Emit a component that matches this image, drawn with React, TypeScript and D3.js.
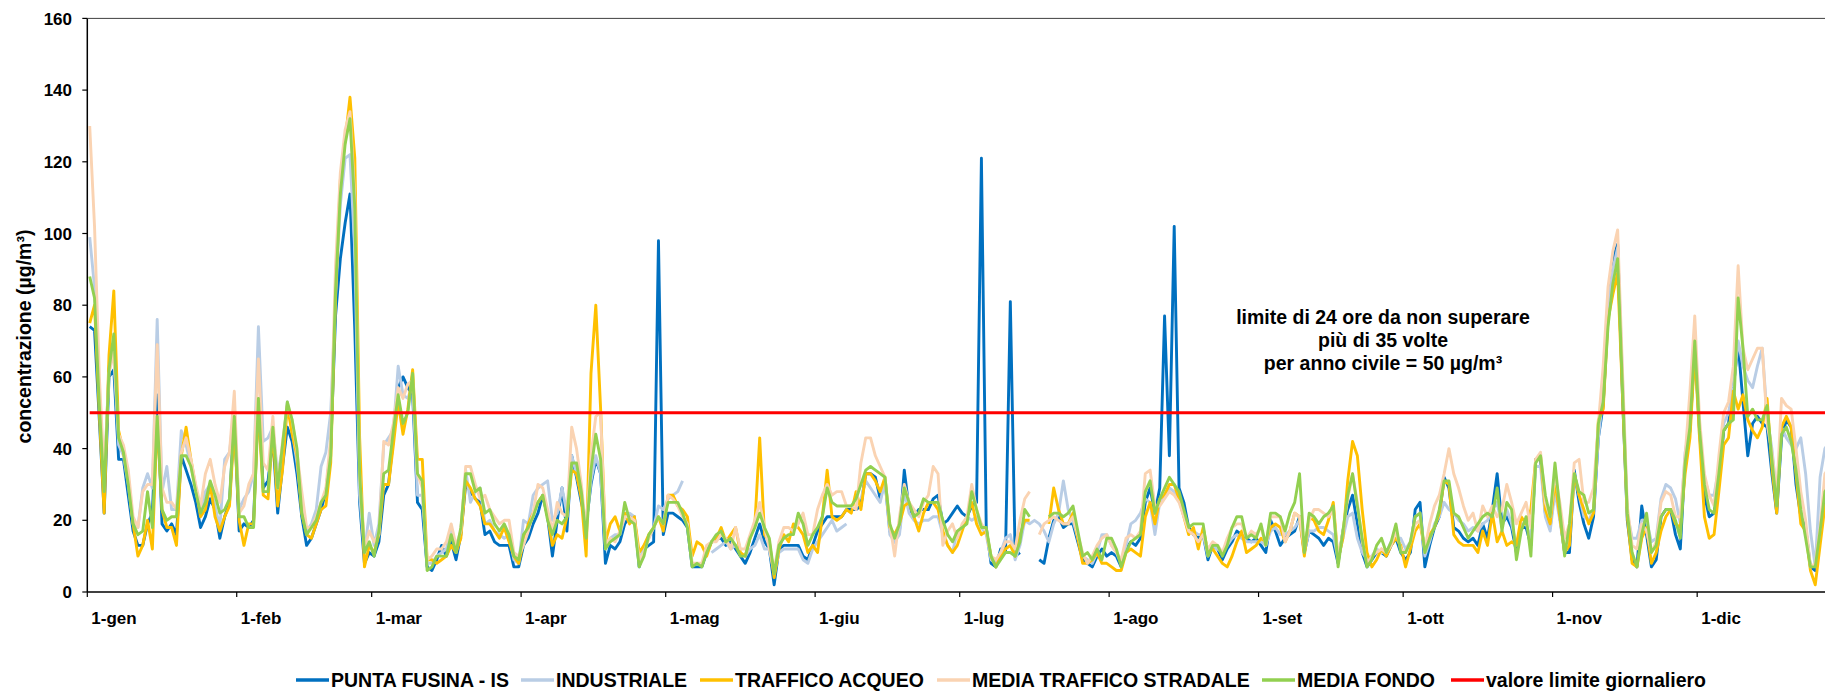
import React from 'react';
import * as d3 from 'd3';

const monthLabels = ['1-gen', '1-feb', '1-mar', '1-apr', '1-mag', '1-giu', '1-lug', '1-ago', '1-set', '1-ott', '1-nov', '1-dic'];
const monthStartDays = [0, 31, 59, 90, 120, 151, 181, 212, 243, 273, 304, 334];
const yTickValues = [0, 20, 40, 60, 80, 100, 120, 140, 160];
const limitValue = 50;

const seriesNames = ['PUNTA FUSINA - IS', 'INDUSTRIALE', 'TRAFFICO ACQUEO', 'MEDIA TRAFFICO STRADALE', 'MEDIA FONDO'];
const limitName = 'valore limite giornaliero';
const annotationLines = ['limite di 24 ore da non superare', 'più di 35 volte', 'per anno civile = 50 µg/m³'];

const N = null;

const puntaFusina = [
  74,73,48,22,60,62,37,37,27,17, 13,13,19,22,55,19,17,19,16,38, 34,30,25,18,21,26,23,15,21,25,
  49,17,19,18,20,54,29,31,43,22, 35,46,42,33,21,13,15,19,23,28, 40,77,93,103,111,73,25,8,11,10,
  14,27,30,43,57,60,57,55,25,23, 7,6,9,13,10,14,9,16,30,28, 26,25,16,17,14,13,13,13,7,7,
  13,15,19,22,27,21,10,20,29,17, 38,32,25,19,30,37,33,8,13,12, 14,19,21,21,7,12,13,14,98,16,
  22,22,21,20,18,7,7,7,11,14, 15,15,13,14,12,10,8,11,15,19, 14,12,2,12,13,13,13,13,10,9,
  13,17,19,21,21,21,21,23,23,23, 24,33,33,32,26,31,17,14,17,34, 23,21,23,23,23,26,27,19,20,22,
  24,22,21,24,25,121,18,8,7,12, 11,81,10,11,N,N,N,9,8,15, 20,21,18,19,19,14,9,8,7,10,
  12,10,11,10,7,12,14,13,15,25, 29,22,29,77,38,102,29,25,18,16, 15,16,9,13,12,9,12,14,17,16,
  15,14,15,13,11,20,17,13,15,16, 17,21,11,17,16,15,13,15,14,8, 17,23,27,19,11,7,9,11,11,10,
  13,15,11,9,11,23,25,7,13,18, 21,32,29,18,17,15,14,15,13,19, 15,23,33,19,21,18,11,18,18,13,
  37,37,22,18,30,21,11,11,34,25, 19,15,21,43,52,78,93,97,55,20, 9,7,24,16,7,9,21,23,23,16,
  12,37,45,68,45,27,21,22,31,45, 47,57,69,53,38,47,49,47,46,33, 22,43,48,46,30,21,18,7,6,17,27,30
];

const industriale = [
  99,85,55,30,63,66,41,38,30,19, 18,29,33,29,76,28,35,23,23,45, 41,35,29,22,28,30,24,18,37,39,
  51,23,26,28,33,74,42,43,46,33, 40,53,45,36,24,17,19,23,35,39, 50,82,108,121,122,95,27,11,22,13,
  19,41,43,45,63,55,54,58,27,27, 8,8,10,11,12,18,11,17,34,25, 28,29,19,20,17,16,15,16,9,8,
  20,19,27,29,30,31,20,22,29,22, 38,33,27,19,31,38,33,12,15,16, 16,21,22,21,8,13,15,18,24,23,
  26,27,28,31,N,N,N,N,N,11, 12,13,14,12,13,11,10,12,13,16, 12,12,5,11,12,12,12,12,9,8,
  12,14,16,18,20,17,18,19,N,N, 26,31,29,27,25,31,16,14,16,28, 22,20,19,20,20,21,21,16,13,11,
  17,18,21,20,21,18,16,9,8,11, 15,16,9,13,20,19,20,19,17,14, 19,22,31,23,20,15,10,9,8,11,
  16,16,13,11,8,13,19,20,22,26, 25,16,25,27,29,28,26,22,17,17, 16,16,10,13,12,11,13,15,16,15,
  14,14,14,14,13,17,18,16,16,17, 18,20,11,17,17,18,18,17,16,9, 15,21,22,15,11,9,10,12,11,11,
  14,15,15,12,14,21,22,10,14,19, 21,25,23,22,20,19,17,18,17,19, 20,23,25,18,23,19,13,19,19,15,
  35,35,21,17,28,20,11,15,33,27, 21,20,23,43,55,80,90,96,60,22, 15,15,20,20,14,15,26,30,29,26,
  19,39,47,70,43,32,27,27,35,47, 50,57,70,63,59,57,63,68,49,40, 27,46,43,41,40,43,33,17,7,32,40,42
];

const trafficoAcqueo = [
  75,80,50,22,66,84,45,39,32,19, 10,13,20,12,48,23,18,18,13,38, 46,37,29,21,23,30,21,17,21,24,
  46,20,13,19,19,52,27,26,45,24, 34,52,44,38,22,16,15,19,23,24, 36,83,115,126,138,121,43,7,13,11,
  16,30,30,41,53,44,51,62,37,37, 9,9,8,9,10,13,11,15,31,29, 26,24,19,19,17,15,18,14,10,8,
  14,19,22,25,27,21,13,16,15,21, 34,33,26,10,61,80,51,14,19,21, 17,22,19,21,11,13,16,18,21,17,
  27,27,24,23,21,10,14,13,10,14, 15,18,14,16,18,11,10,15,19,43, 16,14,4,12,16,14,19,18,16,11,
  13,11,21,34,21,20,21,23,22,28, 23,33,33,31,28,32,18,16,19,24, 25,21,17,22,25,25,23,17,13,11,
  13,17,21,25,19,16,17,10,7,10, 12,13,10,16,20,20,N,N,N,19, 29,23,19,19,22,15,8,8,9,11,
  8,8,7,6,6,11,12,11,10,21, 25,19,26,27,30,30,26,21,16,18, 12,18,11,12,10,8,7,10,14,17,
  11,12,13,15,14,18,19,18,14,17, 22,21,10,21,20,17,16,20,25,9, 15,31,42,38,23,11,7,9,12,10,
  13,15,13,7,12,17,19,12,16,18, 22,31,30,16,14,13,13,13,11,17, 13,22,14,17,13,14,13,21,19,23,
  37,38,23,19,31,21,11,13,33,27, 23,19,22,48,51,76,83,89,55,21, 8,7,15,18,8,11,17,21,23,19,
  18,33,43,67,43,21,15,16,28,41, 43,56,51,55,48,45,43,46,54,35, 22,46,49,46,33,19,17,6,2,13,24,27
];

const mediaTrafficoStradale = [
  130,102,60,33,61,67,44,41,34,21, 18,28,30,30,69,29,25,25,23,39, 43,37,30,24,33,37,30,25,35,39,
  56,22,24,30,33,65,36,34,49,29, 42,52,48,39,28,18,18,21,25,29, 43,91,117,129,134,110,33,12,17,14,
  16,42,41,47,57,54,58,59,33,29, 9,10,12,12,14,19,13,17,35,35, 30,26,27,23,21,19,20,20,11,10,
  13,17,22,30,29,23,17,25,22,21, 46,40,30,17,38,49,50,13,15,14, 17,21,21,20,9,11,15,18,21,19,
  27,26,24,21,19,8,8,8,13,14, 14,16,15,12,18,12,12,16,20,25, 18,12,6,14,18,18,17,19,22,16,
  16,23,27,30,27,28,28,24,24,23, 36,43,43,38,35,32,19,10,21,30, 25,23,21,25,27,35,33,13,17,19,
  15,19,21,30,23,19,17,10,9,11, 14,14,12,20,26,28,N,16,19,20, 21,20,19,19,21,16,11,8,10,13,
  15,16,13,11,9,15,16,15,17,33, 34,24,24,26,28,27,25,21,17,16, 14,16,12,14,13,11,15,18,19,19,
  15,17,16,18,13,21,21,21,14,17, 22,21,12,20,23,23,22,21,23,9, 17,26,33,25,14,8,10,11,12,11,
  13,17,12,11,14,19,20,12,19,24, 27,33,40,33,29,24,20,22,17,24, 21,24,21,23,30,25,19,22,25,18,
  37,39,25,21,33,25,15,19,36,37, 25,25,29,47,63,85,95,101,62,24, 13,12,19,17,11,14,25,28,27,21,
  21,38,56,77,48,33,27,24,38,50, 53,63,91,68,62,65,68,68,47,39, 27,54,52,51,40,28,20,7,8,18,33,35
];

const mediaFondo = [
  88,82,52,28,62,72,43,39,30,19, 16,17,28,18,49,23,20,21,21,38, 38,35,28,22,25,31,27,22,23,26,
  49,21,21,18,18,54,28,28,46,29, 41,53,48,40,22,16,18,20,25,27, 38,84,111,125,132,107,33,11,14,10,
  17,33,34,45,55,47,50,61,33,31, 6,7,10,10,10,16,11,18,33,33, 28,29,22,23,19,17,19,16,10,9,
  16,18,21,25,27,20,16,20,19,21, 36,36,28,15,34,44,37,12,14,15, 16,25,20,19,7,10,16,18,21,19,
  25,25,25,22,18,7,8,7,11,14, 16,17,14,15,13,10,10,15,18,22, 18,15,5,13,15,16,16,22,19,13,
  16,18,21,29,25,24,24,24,24,26, 30,34,35,34,33,32,19,15,19,29, 25,21,22,26,25,25,25,20,16,14,
  17,18,19,28,23,18,18,10,7,9, 11,11,10,14,23,21,N,N,N,21, 22,22,21,22,24,17,10,11,9,12,
  9,15,15,12,7,11,14,15,16,28, 31,22,26,29,32,30,28,23,18,19, 19,19,10,13,13,10,13,18,21,21,
  15,16,15,19,13,22,22,21,17,22, 25,33,11,22,21,19,21,22,24,7, 17,27,33,24,15,7,9,13,15,11,
  14,19,11,11,14,21,22,11,15,18, 23,31,31,22,21,18,15,17,19,21, 22,21,29,17,25,23,9,17,21,10,
  36,38,27,21,36,23,10,19,33,28, 27,22,23,47,53,74,86,93,57,22, 11,7,16,22,11,13,21,23,23,20,
  15,36,46,70,45,30,23,22,33,45, 47,48,82,68,49,51,48,48,52,37, 24,44,46,42,34,23,15,7,7,17,28,30
];

const seriesData = [puntaFusina, industriale, trafficoAcqueo, mediaTrafficoStradale, mediaFondo];
const seriesColors = ['#0070C0', '#B9CDE5', '#FFC000', '#FAD3B2', '#92D050'];
const limitColor = '#FF0000';

const FONT = '"Liberation Sans", Arial, Helvetica, sans-serif';

export default function App() {
  const W = 1825;
  const H = 691;
  const x0 = 87.3;
  const dayW = 4.82;
  const x = d3.scaleLinear().domain([0, 365]).range([x0, x0 + 365 * dayW]);
  const y = d3.scaleLinear().domain([0, 160]).range([592, 18.4]);

  const line = d3
    .line<number | null>()
    .defined((d) => d != null)
    .x((_d, i) => x(i + 0.5))
    .y((d) => y(d as number));

  const plotRight = x(365);
  const legendStarts = [296, 521, 700, 937, 1262, 1451];
  const legendItems = [
    ...seriesNames.map((n, i) => ({ name: n, color: seriesColors[i] })),
    { name: limitName, color: limitColor },
  ];

  return (
    <svg
      width={W}
      height={H}
      style={{ position: 'absolute', left: 0, top: 0, background: '#fff' }}
      fontFamily={FONT}
    >
      <rect x={0} y={0} width={W} height={H} fill="#fff" />
      {/* plot frame */}
      <line x1={x0} x2={plotRight} y1={y(160)} y2={y(160)} stroke="#404040" strokeWidth={1} />
      {/* y axis */}
      <line x1={x0} x2={x0} y1={y(160)} y2={y(0)} stroke="#000" strokeWidth={1.5} />
      {yTickValues.map((v) => (
        <g key={v}>
          <line x1={x0 - 5} x2={x0} y1={y(v)} y2={y(v)} stroke="#000" strokeWidth={1.2} />
          <text x={72} y={y(v)} dy="0.36em" textAnchor="end" fontSize={17} fontWeight="bold" fill="#000">
            {v}
          </text>
        </g>
      ))}
      {/* x axis */}
      <line x1={x0} x2={plotRight} y1={y(0)} y2={y(0)} stroke="#000" strokeWidth={1.5} />
      {monthStartDays.map((d, i) => (
        <g key={d}>
          <line x1={x(d)} x2={x(d)} y1={y(0)} y2={y(0) + 5} stroke="#000" strokeWidth={1.2} />
          <text x={x(d) + 4} y={624} fontSize={17} fontWeight="bold" fill="#000">
            {monthLabels[i]}
          </text>
        </g>
      ))}
      <text
        transform={`translate(24,336.5) rotate(-90)`}
        textAnchor="middle"
        dy="0.35em"
        fontSize={19.5}
        fontWeight="bold"
        fill="#000"
      >
        concentrazione (µg/m³)
      </text>
      {/* series */}
      {seriesData.map((s, i) => (
        <path
          key={i}
          d={line(s) || ''}
          fill="none"
          stroke={seriesColors[i]}
          strokeWidth={2.9}
          strokeLinejoin="round"
        />
      ))}
      {/* limit line */}
      <line x1={x(0.5)} x2={plotRight} y1={y(limitValue)} y2={y(limitValue)} stroke={limitColor} strokeWidth={2.8} />
      {/* annotation */}
      {annotationLines.map((t, i) => (
        <text key={i} x={1383} y={324 + i * 23} textAnchor="middle" fontSize={19.5} fontWeight="bold" fill="#000">
          {t}
        </text>
      ))}
      {/* legend */}
      {legendItems.map((it, i) => (
        <g key={it.name}>
          <line x1={legendStarts[i]} x2={legendStarts[i] + 33} y1={680} y2={680} stroke={it.color} strokeWidth={3.5} />
          <text x={legendStarts[i] + 35} y={687} fontSize={19.5} fontWeight="bold" fill="#000">
            {it.name}
          </text>
        </g>
      ))}
    </svg>
  );
}
